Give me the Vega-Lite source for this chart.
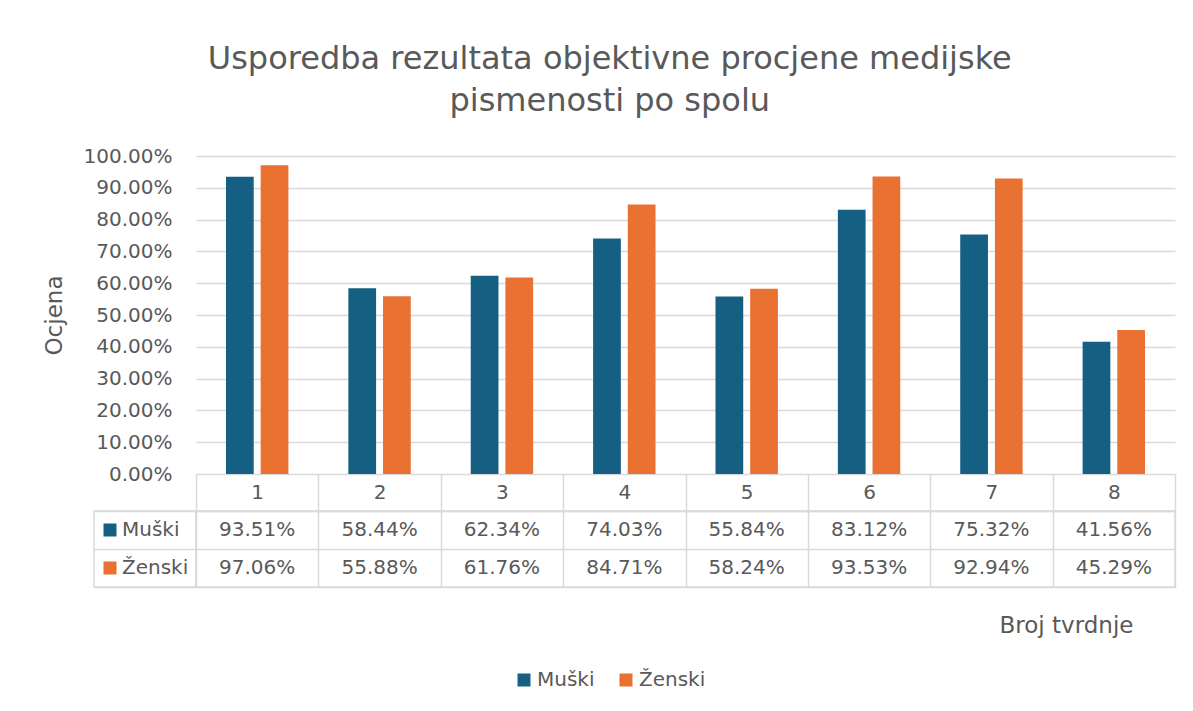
{
  "$schema": "https://vega.github.io/schema/vega-lite/v6.json",
  "background": "white",
  "padding": {"left": 43, "top": 43, "right": 5, "bottom": 5},
  "config": {
    "font": "DejaVu Sans",
    "view": {"stroke": "#d9d9d9", "strokeWidth": 1.5},
    "axis": {
      "labelFont": "DejaVu Sans",
      "titleFont": "DejaVu Sans",
      "labelFontSize": 20,
      "titleFontSize": 23,
      "labelColor": "#595959",
      "titleColor": "#595959",
      "titleFontWeight": "normal",
      "gridColor": "#d9d9d9",
      "gridWidth": 1.5,
      "domainColor": "#d9d9d9",
      "domainWidth": 1.5,
      "tickColor": "#d9d9d9",
      "tickWidth": 1.5
    },
    "legend": {
      "labelFont": "DejaVu Sans",
      "labelFontSize": 20,
      "labelColor": "#595959",
      "symbolType": "square",
      "symbolSize": 169,
      "symbolStrokeWidth": 0,
      "symbolOpacity": 1
    }
  },
  "title": {
    "text": ["Usporedba rezultata objektivne procjene medijske", "pismenosti po spolu"],
    "fontSize": 32,
    "fontWeight": "normal",
    "color": "#595959",
    "lineHeight": 42,
    "anchor": "middle",
    "offset": 28
  },
  "datasets": {
    "scores": [
      {"item": "1", "series": "Muški", "value": 0.9351},
      {"item": "2", "series": "Muški", "value": 0.5844},
      {"item": "3", "series": "Muški", "value": 0.6234},
      {"item": "4", "series": "Muški", "value": 0.7403},
      {"item": "5", "series": "Muški", "value": 0.5584},
      {"item": "6", "series": "Muški", "value": 0.8312},
      {"item": "7", "series": "Muški", "value": 0.7532},
      {"item": "8", "series": "Muški", "value": 0.4156},
      {"item": "1", "series": "Ženski", "value": 0.9706},
      {"item": "2", "series": "Ženski", "value": 0.5588},
      {"item": "3", "series": "Ženski", "value": 0.6176},
      {"item": "4", "series": "Ženski", "value": 0.8471},
      {"item": "5", "series": "Ženski", "value": 0.5824},
      {"item": "6", "series": "Ženski", "value": 0.9353},
      {"item": "7", "series": "Ženski", "value": 0.9294},
      {"item": "8", "series": "Ženski", "value": 0.4529}
    ]
  },
  "columns": 2,
  "spacing": {"row": 37, "column": 0},
  "bounds": "flush",
  "resolve": {"scale": {"color": "independent"}, "legend": {"color": "independent"}},
  "concat": [
    {
      "width": 102,
      "height": 318,
      "view": {"stroke": null},
      "data": {"values": []},
      "mark": "point",
      "encoding": {}
    },
    {
      "width": 979,
      "height": 318,
      "view": {"stroke": null},
      "data": {"name": "scores"},
      "mark": {"type": "bar"},
      "encoding": {
        "x": {"field": "item", "type": "nominal", "axis": null, "scale": {"paddingInner": 0.49, "paddingOuter": 0.245}},
        "xOffset": {"field": "series", "type": "nominal", "sort": ["Muški", "Ženski"], "scale": {"paddingInner": 0.2}},
        "y": {
          "field": "value",
          "type": "quantitative",
          "scale": {"domain": [0, 1]},
          "axis": {
            "format": ".2%",
            "values": [0, 0.1, 0.2, 0.3, 0.4, 0.5, 0.6, 0.7, 0.8, 0.9, 1],
            "domain": false,
            "ticks": false,
            "labelPadding": 24,
            "title": "Ocjena",
            "titlePadding": 17
          }
        },
        "color": {
          "field": "series",
          "type": "nominal",
          "scale": {"domain": ["Muški", "Ženski"], "range": ["#156082", "#E97132"]},
          "legend": null
        }
      }
    },
    {
      "width": 102,
      "height": 76,
      "data": {"name": "scores"},
      "mark": {"type": "rect", "opacity": 0},
      "encoding": {
        "y": {
          "field": "series",
          "type": "nominal",
          "sort": ["Muški", "Ženski"],
          "scale": {"type": "band", "paddingInner": 0, "paddingOuter": 0},
          "axis": {"title": null, "labels": false, "ticks": false, "domain": false, "grid": true, "tickBand": "extent"}
        },
        "color": {
          "field": "series",
          "type": "nominal",
          "scale": {"domain": ["Muški", "Ženski"], "range": ["#156082", "#E97132"]},
          "legend": {"orient": "none", "legendX": 6, "legendY": 9, "padding": 0, "rowPadding": 18, "title": null, "labelOffset": 2}
        }
      }
    },
    {
      "width": 979,
      "height": 76,
      "data": {"name": "scores"},
      "layer": [
        {
          "mark": {"type": "text", "fontSize": 20, "color": "#595959", "font": "DejaVu Sans"},
          "encoding": {
            "x": {
              "field": "item",
              "type": "nominal",
              "scale": {"type": "band", "paddingInner": 0, "paddingOuter": 0},
              "axis": {"orient": "top", "title": null, "labelAngle": 0, "tickBand": "extent", "tickSize": 37, "labelPadding": -18.5, "labelBaseline": "middle", "grid": true, "domain": true}
            },
            "y": {
              "field": "series",
              "type": "nominal",
              "sort": ["Muški", "Ženski"],
              "scale": {"type": "band", "paddingInner": 0, "paddingOuter": 0},
              "axis": {"title": null, "labels": false, "ticks": false, "domain": false, "grid": true, "tickBand": "extent"}
            },
            "text": {"field": "value", "type": "quantitative", "format": ".2%"}
          }
        },
        {
          "mark": {"type": "rect", "opacity": 0},
          "encoding": {
            "x": {
              "field": "item",
              "type": "nominal",
              "axis": {"orient": "bottom", "title": "Broj tvrdnje", "labels": false, "ticks": false, "domain": false, "grid": false, "titleX": 870, "titlePadding": 27}
            },
            "y": {"field": "series", "type": "nominal", "sort": ["Muški", "Ženski"]},
            "color": {
              "field": "series",
              "type": "nominal",
              "scale": {"domain": ["Muški", "Ženski"], "range": ["#156082", "#E97132"]},
              "legend": {"orient": "none", "legendX": 318, "legendY": 159, "direction": "horizontal", "title": null, "columnPadding": 21, "labelOffset": 3}
            }
          }
        }
      ],
      "resolve": {"axis": {"x": "independent"}}
    }
  ]
}
